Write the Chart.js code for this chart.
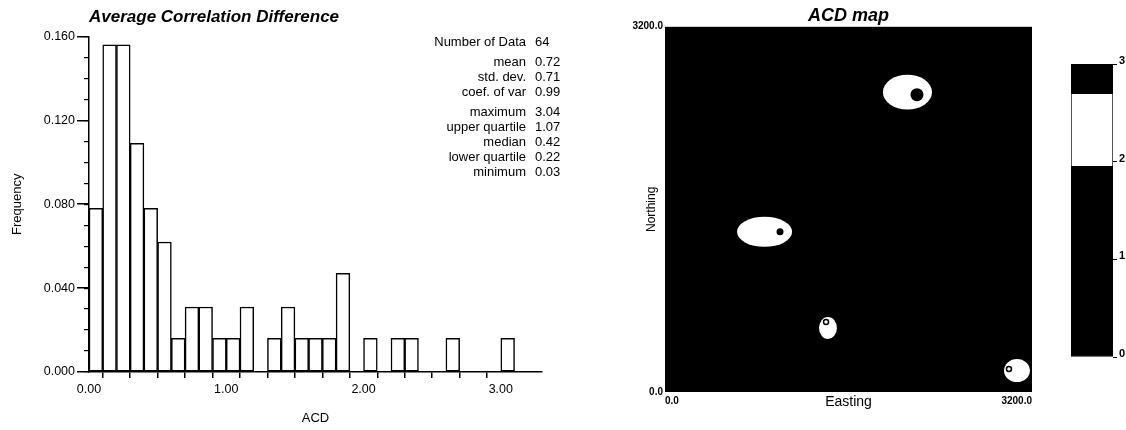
<!DOCTYPE html>
<html><head><meta charset="utf-8">
<script src="https://cdn.jsdelivr.net/npm/chart.js@4/dist/chart.umd.min.js"></script>
<style>
html,body{margin:0;padding:0;background:#fff;width:1126px;height:430px;overflow:hidden}
.box{position:absolute;top:0;height:430px}
#w1{left:0;width:600px}
#w2{left:600px;width:460px}
#w3{left:1060px;width:66px}
canvas{display:block}
</style></head><body>
<div class="box" id="w1"><canvas id="c1" width="600" height="430"></canvas></div>
<div class="box" id="w2"><canvas id="c2" width="460" height="430"></canvas></div>
<div class="box" id="w3"><canvas id="c3" width="66" height="430"></canvas></div>
<script>
// ---------- histogram data ----------
const binCenters = [0.05,0.15,0.25,0.35,0.45,0.55,0.65,0.75,0.85,0.95,1.05,1.15,1.25,1.35,1.45,1.55,1.65,1.75,1.85,1.95,2.05,2.15,2.25,2.35,2.45,2.55,2.65,2.75,2.85,2.95,3.05];
const frequencies = [0.078,0.156,0.156,0.109,0.078,0.062,0.016,0.031,0.031,0.016,0.016,0.031,0,0.016,0.031,0.016,0.016,0.016,0.047,0,0.016,0,0.016,0.016,0,0,0.016,0,0,0,0.016];
const xTickLabels = ['0.00','1.00','2.00','3.00'];
const yTickLabels = ['0.000','0.040','0.080','0.120','0.160'];
const statLabels = ['Number of Data','mean','std. dev.','coef. of var','maximum','upper quartile','median','lower quartile','minimum'];
const statValues = ['64','0.72','0.71','0.99','3.04','1.07','0.42','0.22','0.03'];

// ---------- map data (Easting / Northing units) ----------
const blobEast = [2114, 868, 1421, 3069];
const blobNorth = [2626, 1403, 561, 188];
const blobHalfWidth = [214, 240, 78, 113];
const blobHalfHeight = [153, 132, 96, 101];
const coreEast = [2197, 1003, 1404, 2999];
const coreNorth = [2604, 1403, 614, 202];

// ---------- colour bar ----------
const colorbarBreaks = [0, 1.95, 2.7, 3];
const colorbarColors = ['#000000', '#ffffff', '#000000'];
const colorbarTicks = ['0','1','2','3'];

const FAM = '"Liberation Sans", Arial, Helvetica, sans-serif';
const near = (v, s) => Math.abs(v / s - Math.round(v / s)) < 1e-6;

const statsPlugin = {
  id: 'stats',
  afterDraw(chart) {
    const ctx = chart.ctx;
    ctx.save();
    ctx.font = '13px ' + FAM;
    ctx.fillStyle = '#000';
    ctx.textBaseline = 'middle';
    statLabels.forEach((l, i) => {
      const yy = 42 + i * 15 + (i >= 1 ? 5 : 0) + (i >= 4 ? 5 : 0);
      ctx.textAlign = 'right'; ctx.fillText(l, 526, yy);
      ctx.textAlign = 'left'; ctx.fillText(statValues[i], 535, yy);
    });
    ctx.restore();
  }
};

new Chart(document.getElementById('c1'), {
  type: 'bar',
  data: { datasets: [{
    data: binCenters.map((c, i) => ({ x: c, y: frequencies[i] })),
    xAxisID: 'x', yAxisID: 'y',
    backgroundColor: '#fff', borderColor: '#000', borderWidth: 1.5, borderSkipped: false,
    barPercentage: 1, categoryPercentage: 1
  }]},
  options: {
    responsive: false, animation: false,
    layout: { padding: { left: 0, right: 58, top: 0, bottom: 0 } },
    plugins: {
      legend: { display: false }, tooltip: { enabled: false },
      title: { display: true, text: 'Average Correlation Difference', align: 'start', fullSize: false,
        color: '#000', font: { family: FAM, size: 17, style: 'italic', weight: 'bold' },
        padding: { top: 7, bottom: 9 } }
    },
    scales: {
      x: { type: 'linear', min: 0, max: 3.3, offset: false,
        border: { display: true, color: '#000', width: 1.5 },
        grid: { drawOnChartArea: false, tickLength: 6, lineWidth: 1.5,
          color: c => (c && c.tick && !near(c.tick.value, 0.2)) ? 'rgba(0,0,0,0)' : '#000' },
        ticks: { stepSize: 0.2, autoSkip: false, maxRotation: 0, padding: 4, color: '#000',
          font: { family: FAM, size: 12.5 },
          callback: v => near(v, 1) ? xTickLabels[Math.round(v)] : '' },
        title: { display: true, text: 'ACD', color: '#000', font: { family: FAM, size: 13 }, padding: { top: 0, bottom: 4 } },
        afterFit: s => { s.height = 58; }
      },
      y: { min: 0, max: 0.16, position: 'left', weight: 1,
        border: { display: true, color: '#000', width: 1.5 },
        grid: { drawOnChartArea: false, tickLength: 12, lineWidth: 1.5, color: '#000' },
        ticks: { stepSize: 0.04, padding: 2, color: '#000', font: { family: FAM, size: 12.5 },
          callback: v => yTickLabels[Math.round(v / 0.04)] },
        title: { display: true, text: 'Frequency', color: '#000', font: { family: FAM, size: 13 }, padding: { top: 10, bottom: 0 } },
        afterFit: s => { s.width = 89; }
      },
      y2: { min: 0, max: 0.16, position: 'left', weight: 0,
        border: { display: false },
        grid: { drawOnChartArea: false, tickLength: 5, lineWidth: 1.2, color: '#000' },
        ticks: { stepSize: 0.01, display: false },
        afterFit: s => { s.width = 0; }
      }
    }
  },
  plugins: [statsPlugin]
});

const fieldPlugin = {
  id: 'field',
  beforeDatasetsDraw(chart) {
    const { ctx, chartArea: a, scales: { x, y } } = chart;
    ctx.save();
    ctx.beginPath(); ctx.rect(a.left, a.top, a.width, a.height); ctx.clip();
    ctx.fillStyle = '#000';
    ctx.fillRect(a.left, a.top, a.width, a.height);
    ctx.fillStyle = '#fff';
    blobEast.forEach((e, i) => {
      const cx = x.getPixelForValue(e), cy = y.getPixelForValue(blobNorth[i]);
      const rx = Math.abs(x.getPixelForValue(e + blobHalfWidth[i]) - cx);
      const ry = Math.abs(y.getPixelForValue(blobNorth[i] + blobHalfHeight[i]) - cy);
      ctx.beginPath(); ctx.ellipse(cx, cy, rx, ry, 0, 0, Math.PI * 2); ctx.fill();
    });
    ctx.restore();
  }
};

new Chart(document.getElementById('c2'), {
  type: 'scatter',
  data: { datasets: [
    { data: blobEast.map((e, i) => ({ x: e, y: blobNorth[i] })), pointRadius: 0 },
    { data: coreEast.map((e, i) => ({ x: e, y: coreNorth[i] })),
      pointRadius: [6.5, 3.5, 2.5, 2.5],
      backgroundColor: ['#000', '#000', '#fff', '#fff'],
      borderColor: '#000', borderWidth: [0, 0, 1.5, 1.5] }
  ]},
  options: {
    responsive: false, animation: false,
    layout: { padding: { left: 0, right: 28, top: 0, bottom: 0 } },
    plugins: {
      legend: { display: false }, tooltip: { enabled: false },
      title: { display: true, text: 'ACD map', fullSize: false, color: '#000',
        font: { family: FAM, size: 18, style: 'italic', weight: 'bold' }, padding: { top: 5, bottom: 0 } }
    },
    scales: {
      x: { type: 'linear', min: 0, max: 3200,
        grid: { display: false, drawTicks: false }, border: { display: false },
        ticks: { stepSize: 3200, align: 'inner', padding: 3, maxRotation: 0, color: '#000',
          font: { family: FAM, size: 10, weight: 'bold' }, callback: v => v.toFixed(1) },
        title: { display: true, text: 'Easting', color: '#000', font: { family: FAM, size: 14 }, padding: { top: 0, bottom: 19 } },
        afterFit: s => { s.height = 38; }
      },
      y: { type: 'linear', min: 0, max: 3200,
        grid: { display: false, drawTicks: false }, border: { display: false },
        ticks: { stepSize: 3200, padding: 2, color: '#000',
          font: { family: FAM, size: 10, weight: 'bold' }, callback: v => v.toFixed(1) },
        title: { display: true, text: 'Northing', color: '#000', font: { family: FAM, size: 12 }, padding: { top: 44, bottom: 0 } },
        afterFit: s => { s.width = 65; }
      }
    }
  },
  plugins: [fieldPlugin]
});

new Chart(document.getElementById('c3'), {
  type: 'bar',
  data: { labels: [''], datasets: colorbarColors.map((c, i) => ({
    data: [[colorbarBreaks[i], colorbarBreaks[i + 1]]],
    backgroundColor: c, borderColor: '#000', borderWidth: 1, borderSkipped: false,
    grouped: false, barPercentage: 1, categoryPercentage: 1
  }))},
  options: {
    responsive: false, animation: false,
    layout: { padding: { left: 11, right: 0, top: 64, bottom: 73 } },
    plugins: { legend: { display: false }, tooltip: { enabled: false } },
    scales: {
      x: { display: false },
      y: { position: 'right', min: 0, max: 3,
        border: { display: false },
        grid: { drawOnChartArea: false, tickLength: 4, color: '#000' },
        ticks: { stepSize: 1, padding: 2, labelOffset: -3, color: '#000',
          font: { family: FAM, size: 11, weight: 'bold' }, callback: v => colorbarTicks[Math.round(v)] },
        afterFit: s => { s.width = 13; }
      }
    }
  }
});
</script>
</body></html>
